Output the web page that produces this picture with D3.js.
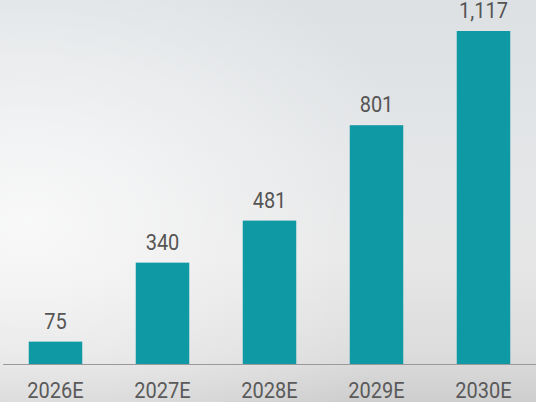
<!DOCTYPE html>
<html>
<head>
    <meta charset="UTF-8">
    <title>Bar chart</title>
    <script src="https://d3js.org/d3.v7.min.js"></script>
    <style>
        body { margin: 0; }
    </style>
</head>
<body>
    <script>
        const years = ["2026E", "2027E", "2028E", "2029E", "2030E"];
        const values = [75, 340, 481, 801, 1117];

        const width = 536, height = 402;

        const svg = d3.select("body").append("svg")
            .attr("width", width).attr("height", height);

        // background, roughly like the pale sky photo
        const defs = svg.append("defs");
        const grad = defs.append("linearGradient")
            .attr("id", "bg").attr("x1", 0).attr("y1", 0).attr("x2", 0).attr("y2", 1);
        grad.append("stop").attr("offset", "0%").attr("stop-color", "#dde1e4");
        grad.append("stop").attr("offset", "40%").attr("stop-color", "#e3e5e7");
        grad.append("stop").attr("offset", "65%").attr("stop-color", "#e6e6e6");
        grad.append("stop").attr("offset", "88%").attr("stop-color", "#dcdcdc");
        grad.append("stop").attr("offset", "100%").attr("stop-color", "#cecece");
        const glow = defs.append("radialGradient")
            .attr("id", "glow").attr("cx", 0.05).attr("cy", 0.55).attr("r", 0.75);
        glow.append("stop").attr("offset", "0%").attr("stop-color", "#fff").attr("stop-opacity", 0.75);
        glow.append("stop").attr("offset", "100%").attr("stop-color", "#fff").attr("stop-opacity", 0);
        svg.append("rect").attr("width", width).attr("height", height).attr("fill", "url(#bg)");
        svg.append("rect").attr("width", width).attr("height", height).attr("fill", "url(#glow)");

        const x = d3.scaleBand()
            .domain(years)
            .range([2, 537])
            .paddingInner(0.5)
            .paddingOuter(0.25);

        const y = d3.scaleLinear()
            .domain([0, 1117])
            .range([364, 31]);

        svg.selectAll("rect.bar")
            .data(values)
            .enter().append("rect")
            .attr("class", "bar")
            .attr("x", (d, i) => x(years[i]))
            .attr("y", d => y(d))
            .attr("width", x.bandwidth())
            .attr("height", d => y(0) - y(d))
            .attr("fill", "#0f99a5");

        // text in the picture is a bit taller than Roboto, so stretch it a little
        svg.selectAll("text.val")
            .data(values)
            .enter().append("text")
            .attr("class", "val")
            .attr("transform", (d, i) => `translate(${x(years[i]) + x.bandwidth() / 2},${y(d) - 13}) scale(1,1.1)`)
            .attr("text-anchor", "middle")
            .attr("font-family", "Roboto")
            .attr("font-size", 20)
            .attr("fill", "#555")
            .text(d => d3.format(",")(d));

        const axis = svg.append("g")
            .attr("transform", `translate(0,${y(0)})`)
            .call(d3.axisBottom(x).tickSize(0));
        axis.select(".domain")
            .attr("d", `M3,0.5H536`)
            .attr("stroke", "#9a9a9a");
        axis.selectAll("text")
            .attr("y", 0).attr("dy", 0)
            .attr("transform", "translate(0,34) scale(1,1.1)")
            .attr("font-family", "Roboto")
            .attr("font-size", 20)
            .attr("fill", "#5a5a5a");
    </script>
</body>
</html>
